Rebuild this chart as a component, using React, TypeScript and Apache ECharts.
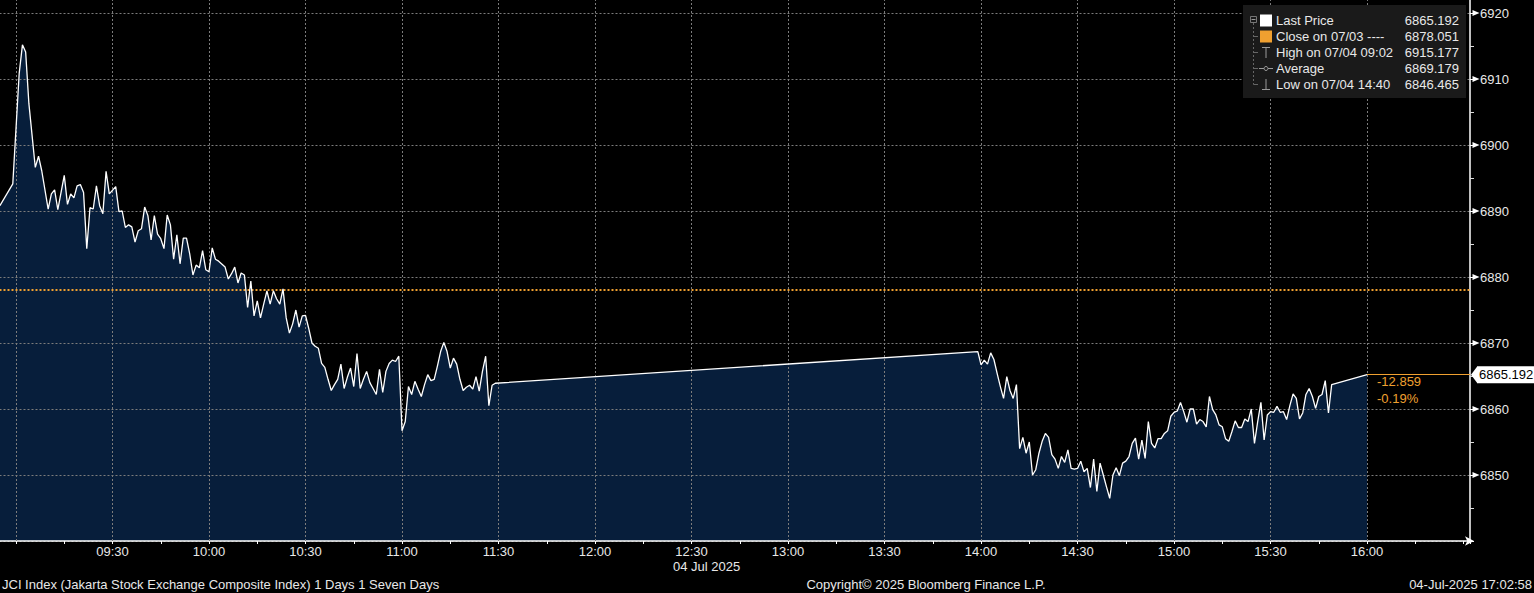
import React, { useEffect, useRef } from 'react';
import * as echarts from 'echarts';

// minutes after 09:00 (Jakarta time), session 1
const MIN_S1 = [-5, -1, 1, 2, 3, 4, 6, 7, 8, 10, 11, 12, 13, 15, 16, 17, 18, 19, 20, 21, 22, 23, 24, 25, 26, 27, 28, 29, 31, 32, 33, 34, 35, 36, 37, 38, 39, 40, 41, 42, 43, 44, 45, 46, 47, 48, 49, 50, 51, 52, 53, 54, 55, 56, 57, 58, 59, 60, 61, 62, 63, 65, 66, 67, 68, 69, 70, 71, 72, 73, 74, 75, 76, 77, 78, 79, 80, 81, 82, 83, 84, 85, 86, 87, 88, 89, 90, 91, 92, 93, 94, 95, 96, 97, 98, 99, 100, 101, 102, 103, 104, 105, 106, 107, 108, 109, 110, 111, 112, 113, 114, 115, 116, 117, 118, 119, 120, 121, 122, 123, 124, 125, 126, 127, 128, 129, 130, 131, 132, 133, 134, 135, 136, 137, 138, 139, 140, 141, 142, 143, 144, 145, 146, 147, 148, 149];
const VAL_S1 = [6890.8, 6894.1, 6910.9, 6915.18, 6914.1, 6906.3, 6896.6, 6898.3, 6896.1, 6890.3, 6892.6, 6893.2, 6890.2, 6895.4, 6891.0, 6892.6, 6892.0, 6893.8, 6894.0, 6892.8, 6884.3, 6890.5, 6890.3, 6893.8, 6890.8, 6889.6, 6896.0, 6892.6, 6893.7, 6889.9, 6890.0, 6887.5, 6887.9, 6887.6, 6885.3, 6887.0, 6887.3, 6890.6, 6889.3, 6885.6, 6889.3, 6886.5, 6885.8, 6884.3, 6889.4, 6887.9, 6882.7, 6886.4, 6882.0, 6885.9, 6885.9, 6883.5, 6880.3, 6881.8, 6881.4, 6884.0, 6881.1, 6880.8, 6884.4, 6882.7, 6882.4, 6881.5, 6879.7, 6880.5, 6881.5, 6879.1, 6880.6, 6880.3, 6875.4, 6879.4, 6874.1, 6876.4, 6873.8, 6875.9, 6877.9, 6875.9, 6877.9, 6876.7, 6875.9, 6878.2, 6873.8, 6871.5, 6872.9, 6875.0, 6872.4, 6874.1, 6874.2, 6872.2, 6870.0, 6869.5, 6869.2, 6866.9, 6866.3, 6864.5, 6862.8, 6863.7, 6864.5, 6866.8, 6863.1, 6864.8, 6866.2, 6863.4, 6868.4, 6863.1, 6864.5, 6865.7, 6864.0, 6863.1, 6862.2, 6866.0, 6862.5, 6865.7, 6866.9, 6867.4, 6867.2, 6868.0, 6856.7, 6858.1, 6863.4, 6862.2, 6864.2, 6863.0, 6861.9, 6863.7, 6865.2, 6864.3, 6864.5, 6866.5, 6868.7, 6870.1, 6868.7, 6866.2, 6867.7, 6866.8, 6864.5, 6862.8, 6863.3, 6863.6, 6863.0, 6864.9, 6862.7, 6865.7, 6868.0, 6860.5, 6863.6, 6863.9];

// session 2
const MIN_S2 = [299, 300, 301, 302, 303, 304, 305, 306, 307, 308, 309, 310, 311, 312, 313, 314, 315, 316, 317, 318, 319, 320, 321, 322, 323, 324, 325, 326, 327, 328, 329, 330, 331, 332, 333, 334, 335, 336, 337, 338, 339, 340, 341, 342, 343, 344, 345, 346, 347, 348, 349, 350, 351, 352, 353, 354, 355, 356, 357, 358, 359, 360, 361, 362, 363, 364, 365, 366, 367, 368, 369, 370, 371, 372, 373, 374, 375, 376, 377, 378, 379, 380, 381, 382, 383, 384, 385, 386, 387, 388, 389, 390, 391, 392, 393, 394, 395, 396, 397, 398, 399, 400, 401, 402, 403, 404, 405, 406, 407, 408, 409, 420];
const VAL_S2 = [6868.7, 6866.7, 6867.4, 6866.8, 6868.5, 6867.5, 6865.4, 6863.4, 6861.6, 6864.9, 6862.8, 6861.6, 6863.7, 6854.0, 6855.7, 6853.3, 6855.0, 6850.0, 6850.8, 6853.3, 6855.1, 6856.3, 6855.7, 6853.1, 6852.4, 6851.0, 6852.8, 6851.9, 6853.8, 6851.0, 6850.9, 6851.0, 6852.1, 6850.5, 6851.0, 6848.1, 6852.4, 6847.5, 6851.8, 6850.0, 6848.2, 6846.47, 6850.0, 6851.1, 6849.9, 6851.8, 6852.1, 6852.8, 6854.8, 6855.6, 6852.4, 6855.3, 6852.5, 6858.1, 6854.8, 6854.1, 6855.5, 6855.5, 6856.3, 6856.7, 6858.9, 6859.5, 6859.7, 6861.0, 6859.6, 6858.0, 6860.0, 6860.0, 6857.7, 6858.4, 6858.1, 6857.3, 6861.9, 6859.9, 6859.1, 6857.6, 6857.3, 6855.5, 6855.1, 6856.6, 6858.2, 6857.2, 6857.2, 6858.5, 6858.1, 6860.0, 6854.8, 6858.1, 6861.0, 6855.3, 6859.1, 6859.6, 6859.5, 6860.4, 6859.5, 6859.6, 6858.4, 6860.5, 6862.3, 6861.6, 6858.5, 6859.4, 6862.2, 6863.1, 6861.9, 6860.1, 6861.9, 6862.2, 6864.3, 6859.4, 6863.7, 6865.192];

const Y_TICKS = [6850, 6860, 6870, 6880, 6890, 6900, 6910, 6920];
const X_GRID = [0, 30, 60, 90, 120, 150, 180, 210, 240, 270, 300, 330, 360, 390, 420];

const LAST = 6865.192;
const CLOSE = 6878.051;
const HIGH = 6915.177;
const AVG = 6869.179;
const LOW = 6846.465;
const LAST_MIN = 420;

const LEGEND_LABELS = ['Last Price', 'Close on 07/03 ----', 'High on 07/04 09:02', 'Average', 'Low on 07/04 14:40'];
const LEGEND_VALUES = [LAST, CLOSE, HIGH, AVG, LOW];

const X_MIN = -30;
const X_MAX = 452;
const Y_MIN = 6840;
const Y_MAX = 6925;

const FONT = "'Liberation Sans', Arial, Helvetica, sans-serif";
const ORANGE = '#f0a030';
const GRID_COLOR = '#7c7c7c';

function fmtTime(v: number): string {
  const t = 9 * 60 + v;
  const h = Math.floor(t / 60);
  const m = t % 60;
  return (h < 10 ? '0' : '') + h + ':' + (m < 10 ? '0' : '') + m;
}

function buildOption() {
  const data: number[][] = [];
  MIN_S1.forEach((m, i) => data.push([m, VAL_S1[i]]));
  MIN_S2.forEach((m, i) => data.push([m, VAL_S2[i]]));

  const chg = LAST - CLOSE;
  const pct = (chg / CLOSE) * 100;

  const txt = (text: string, x: number, y: number, fill: string, align = 'left', size = 13) => ({
    type: 'text',
    z: 110,
    silent: true,
    style: {
      text, x, y, fill,
      fontSize: size, fontFamily: FONT,
      textAlign: align, textVerticalAlign: 'middle',
    },
  });
  const ln = (x1: number, y1: number, x2: number, y2: number, stroke: string, dash?: number[]) => ({
    type: 'line',
    z: 110,
    silent: true,
    shape: { x1, y1, x2, y2 },
    style: { stroke, lineWidth: 1, lineDash: dash },
  });

  const rowY = [20.5, 36.5, 52.5, 68.5, 84.5];
  const legend: any[] = [
    { type: 'rect', z: 105, silent: true, shape: { x: 1243, y: 5, width: 223, height: 93 }, style: { fill: '#1a1a1a' } },
    { type: 'rect', z: 110, silent: true, shape: { x: 1250.5, y: 16.5, width: 6, height: 6 }, style: { fill: 'none', stroke: '#777', lineWidth: 1 } },
    ln(1251.5, 19.5, 1255.5, 19.5, '#999'),
    ln(1253.5, 23, 1253.5, 84.5, '#666', [2, 2]),
    ln(1253.5, 36.5, 1258, 36.5, '#666'),
    ln(1253.5, 52.5, 1258, 52.5, '#666'),
    ln(1253.5, 68.5, 1258, 68.5, '#666'),
    ln(1253.5, 84.5, 1258, 84.5, '#666'),
    { type: 'rect', z: 110, silent: true, shape: { x: 1260, y: 14.5, width: 12, height: 12 }, style: { fill: '#ffffff' } },
    { type: 'rect', z: 110, silent: true, shape: { x: 1260, y: 30.5, width: 12, height: 12 }, style: { fill: ORANGE } },
    ln(1262, 47.5, 1270, 47.5, '#9a9a9a'),
    ln(1266, 47.5, 1266, 58, '#9a9a9a'),
    ln(1259, 68.5, 1273, 68.5, '#9a9a9a'),
    { type: 'circle', z: 111, silent: true, shape: { cx: 1266, cy: 68.5, r: 2 }, style: { fill: '#1a1a1a', stroke: '#9a9a9a', lineWidth: 1 } },
    ln(1266, 79, 1266, 89.5, '#9a9a9a'),
    ln(1262, 89.5, 1270, 89.5, '#9a9a9a'),
  ];
  LEGEND_LABELS.forEach((l, i) => {
    legend.push(txt(l, 1276, rowY[i], '#e8e8e8'));
    legend.push(txt(LEGEND_VALUES[i].toFixed(3), 1459, rowY[i], '#e8e8e8', 'right'));
  });

  const graphics = [
    ...legend,
    txt(chg.toFixed(3), 1377, 381, ORANGE),
    txt(pct.toFixed(2) + '%', 1377, 398, ORANGE),
    txt('04 Jul 2025', 673, 566, '#e8e8e8'),
    txt('JCI Index (Jakarta Stock Exchange Composite Index) 1 Days 1 Seven Days', 2, 584, '#e8e8e8'),
    txt('Copyright\u00a9 2025 Bloomberg Finance L.P.', 926, 584, '#e8e8e8', 'center'),
    txt('04-Jul-2025 17:02:58', 1532, 584, '#e8e8e8', 'right'),
  ];

  return {
    animation: false,
    backgroundColor: '#000000',
    textStyle: { fontFamily: FONT },
    grid: { left: -80.5, right: 64, top: -20, bottom: 52, containLabel: false, outerBoundsMode: 'none' },
    xAxis: {
      type: 'value',
      min: X_MIN,
      max: X_MAX,
      interval: 30,
      z: 3,
      axisLine: {
        show: true, onZero: false,
        lineStyle: { color: '#ffffff', width: 1.5 },
        symbol: ['none', 'arrow'], symbolSize: [7, 9], symbolOffset: [0, 4],
      },
      axisTick: { show: true, length: 3, lineStyle: { color: '#ffffff', width: 1 } },
      minorTick: { show: true, splitNumber: 2, length: 3, lineStyle: { color: '#ffffff', width: 1 } },
      axisLabel: {
        color: '#e8e8e8', fontSize: 13, margin: 4, fontFamily: FONT,
        formatter: (v: number) => (v >= 30 && v <= 420 && v % 30 === 0 ? fmtTime(v) : ''),
      },
      splitLine: { show: false },
    },
    yAxis: {
      type: 'value',
      position: 'right',
      min: Y_MIN,
      max: Y_MAX,
      interval: 10,
      z: 3,
      axisLine: { show: true, onZero: false, lineStyle: { color: '#ffffff', width: 1.5 } },
      axisTick: { show: true, length: 4, lineStyle: { color: '#ffffff', width: 1 } },
      minorTick: { show: true, splitNumber: 2, length: 4, lineStyle: { color: '#dddddd', width: 1 } },
      axisLabel: {
        color: '#e8e8e8', fontSize: 13, margin: 10, showMinLabel: false, showMaxLabel: false, fontFamily: FONT,
        formatter: (v: number) => String(v),
      },
      splitLine: { show: true, lineStyle: { color: GRID_COLOR, type: [2, 2], width: 1 } },
    },
    series: [
      {
        type: 'line',
        name: 'area',
        data,
        z: 1,
        silent: true,
        showSymbol: false,
        lineStyle: { width: 0, opacity: 0 },
        areaStyle: { color: '#071e3b', opacity: 1, origin: 'start' },
      },
      {
        type: 'line',
        name: 'grid',
        data: [],
        z: 3,
        silent: true,
        markLine: {
          silent: true,
          symbol: ['none', 'none'],
          animation: false,
          label: { show: false },
          lineStyle: { color: GRID_COLOR, type: [2, 2], width: 1 },
          data: X_GRID.map((x) => ({ xAxis: x })),
        },
        markPoint: {
          silent: true,
          animation: false,
          symbol: 'triangle',
          symbolSize: [6, 7],
          symbolRotate: -90,
          symbolOffset: [6, 0],
          itemStyle: { color: '#ffffff' },
          label: { show: false },
          data: [
            ...Y_TICKS.map((v) => ({ coord: [X_MAX, v] })),
            { coord: [X_MAX, LAST], symbolSize: [16, 6], symbolRotate: 90, symbolOffset: [4, 0] },
          ],
        },
      },
      {
        type: 'line',
        name: 'Last Price',
        data,
        z: 5,
        silent: true,
        showSymbol: false,
        lineStyle: { color: '#ffffff', width: 1.3 },
        markLine: {
          silent: true,
          animation: false,
          symbol: ['none', 'none'],
          data: [
            { yAxis: CLOSE, lineStyle: { color: ORANGE, type: [2, 2], width: 2 }, label: { show: false } },
            [
              {
                coord: [LAST_MIN, LAST],
                lineStyle: { color: ORANGE, type: 'solid', width: 1 },
                label: {
                  show: true, position: 'end', distance: 7,
                  formatter: LAST.toFixed(3),
                  color: '#000000', backgroundColor: '#ffffff',
                  padding: [2, 3, 1, 2], fontSize: 13, fontFamily: FONT, lineHeight: 14,
                },
              },
              { coord: [X_MAX, LAST] },
            ],
          ],
        },
      },
    ],
    graphic: { elements: graphics },
  };
}

export default function App() {
  const ref = useRef<HTMLDivElement>(null);
  useEffect(() => {
    if (!ref.current) return;
    const chart = echarts.init(ref.current, null, { renderer: 'svg' });
    chart.setOption(buildOption() as any);
    return () => chart.dispose();
  }, []);
  return (
    <div
      ref={ref}
      style={{ position: 'absolute', left: 0, top: 0, width: 1534, height: 593, background: '#000' }}
    />
  );
}
